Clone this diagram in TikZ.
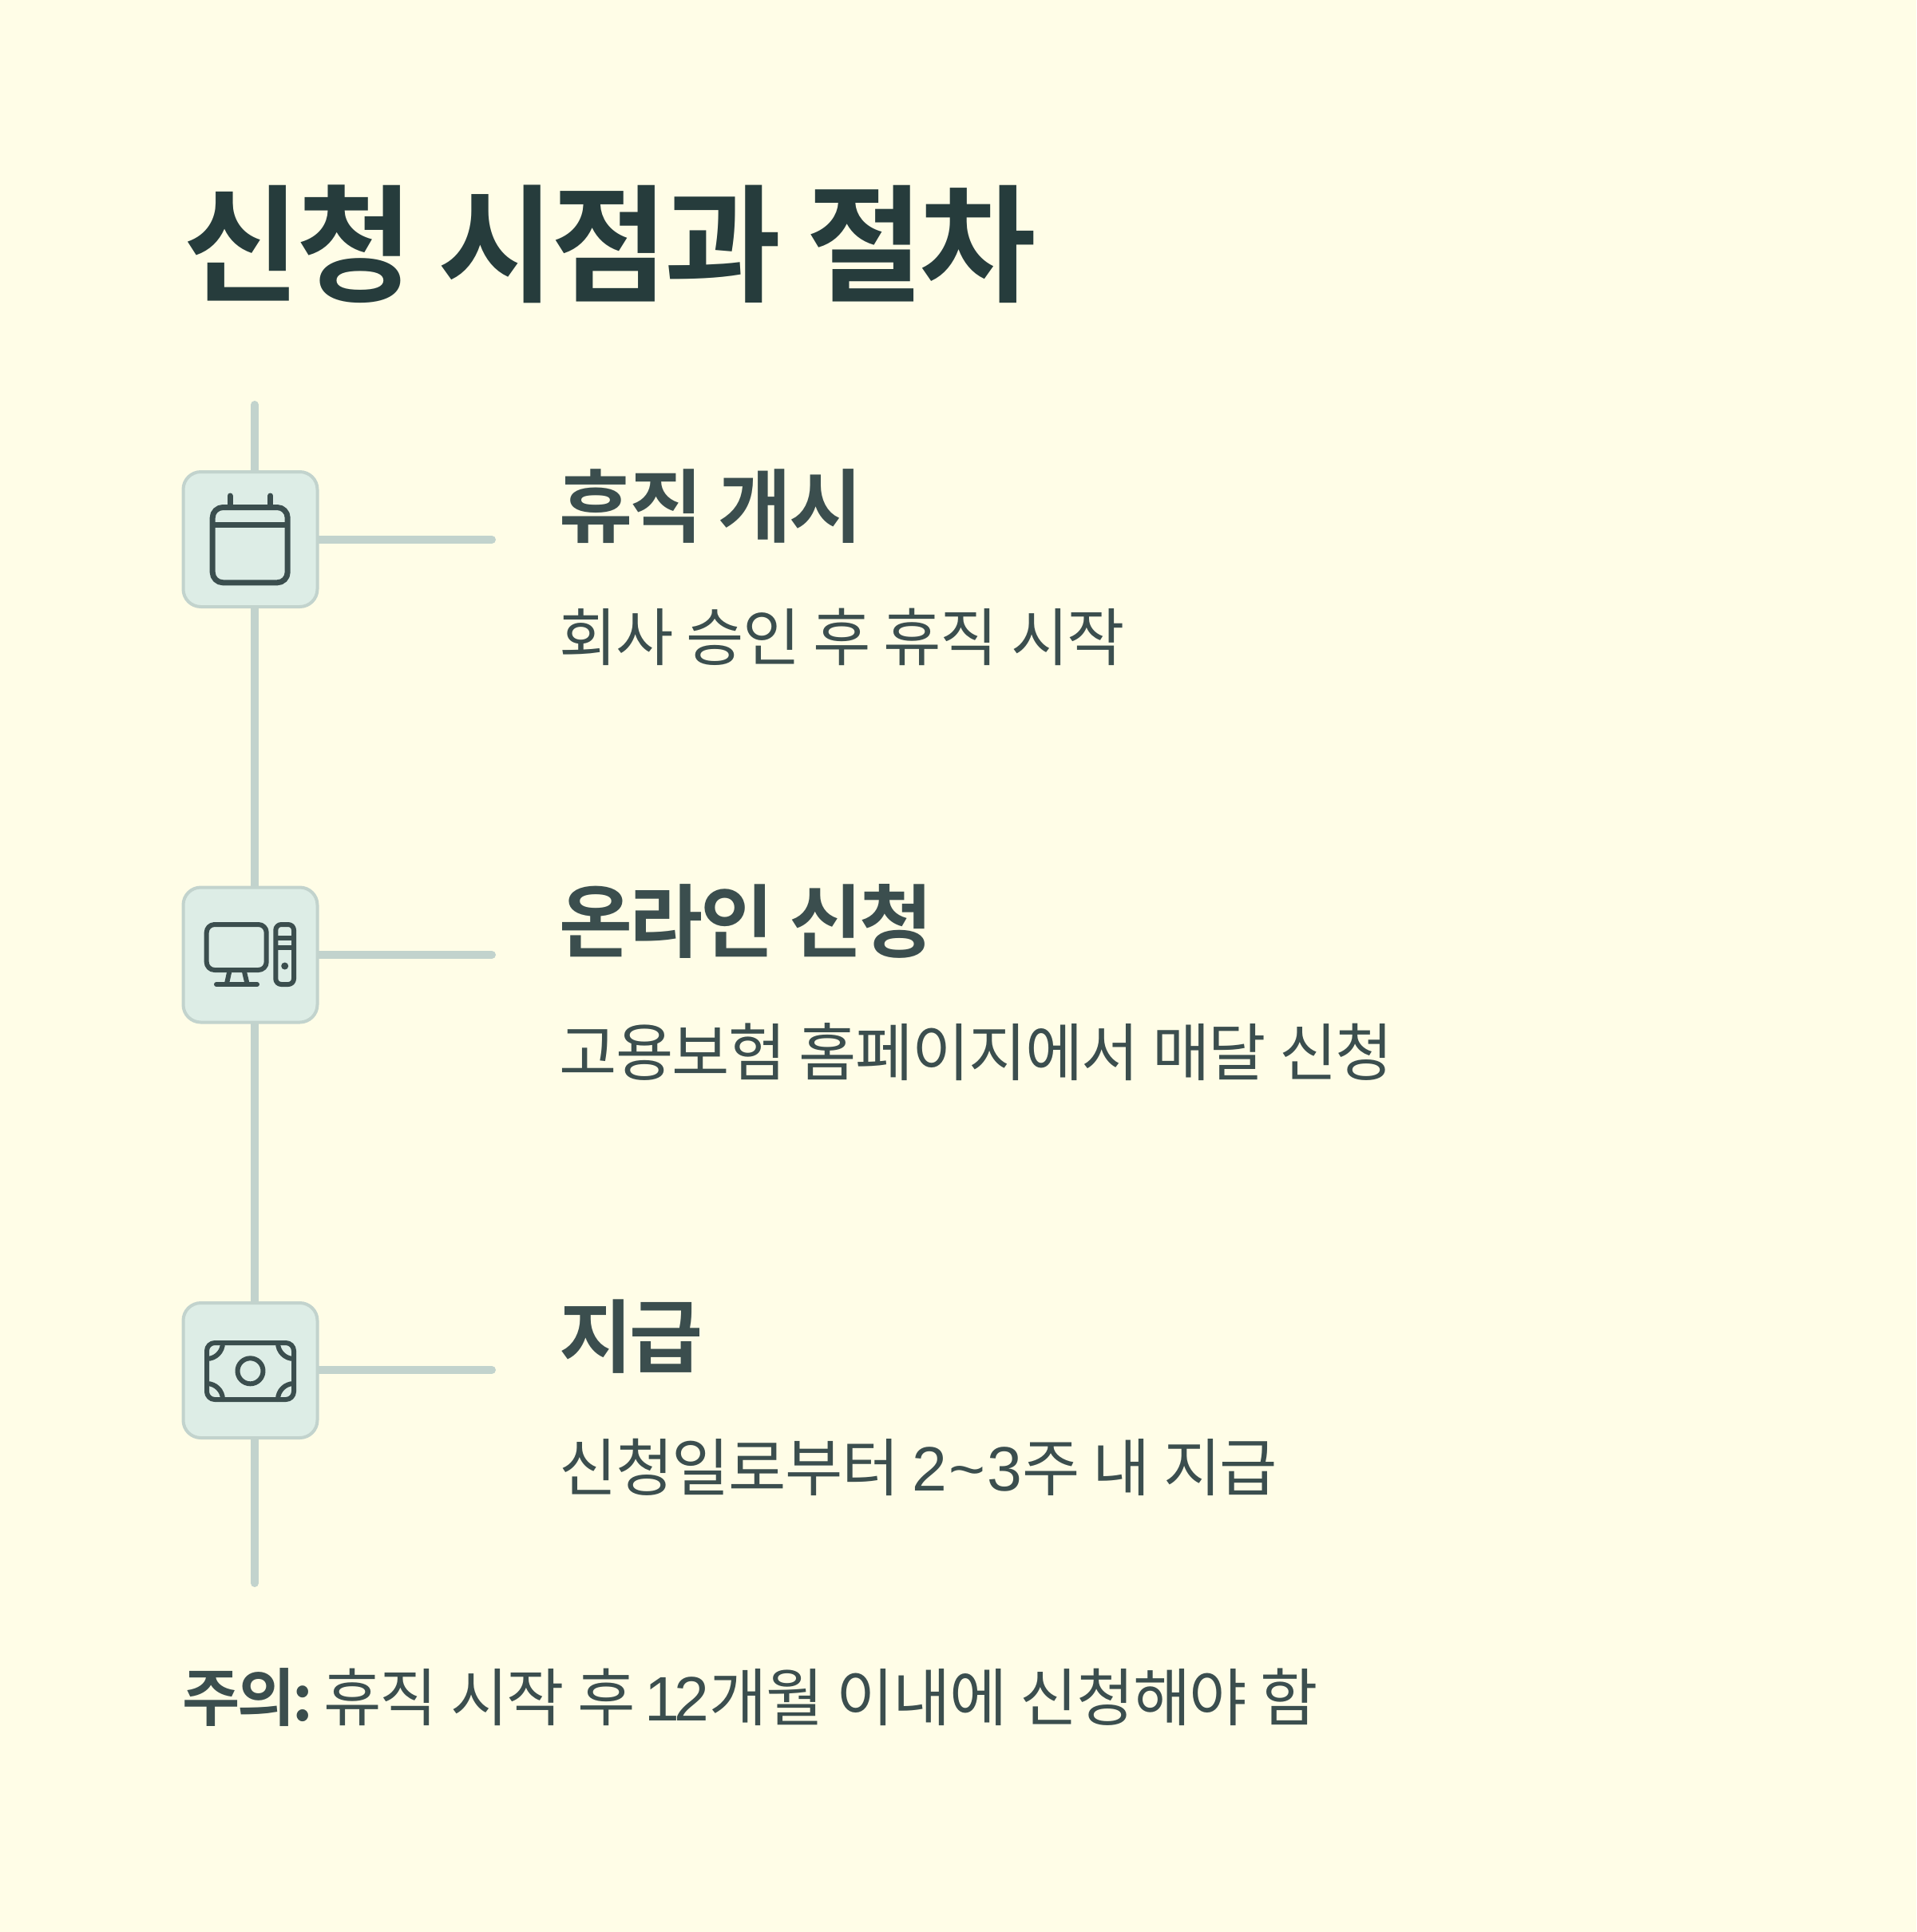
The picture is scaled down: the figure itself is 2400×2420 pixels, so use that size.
\documentclass[tikz,border=0pt]{standalone}
\usepackage{fontspec}
\usetikzlibrary{backgrounds}
\newfontfamily\krb[LetterSpace=-3]{Noto Sans CJK KR Bold}
\newfontfamily\krh[LetterSpace=-3.6]{Noto Sans CJK KR Bold}
\newfontfamily\krn[LetterSpace=-4]{Noto Sans CJK KR Bold}
\newfontfamily\krr[LetterSpace=-2]{Noto Sans CJK KR}
\newfontfamily\dgw[LetterSpace=3]{Liberation Sans}
\newfontfamily\dgt[LetterSpace=-8]{Liberation Sans}
\definecolor{bgc}{HTML}{FFFDE7}
\definecolor{linec}{HTML}{C2D3CD}
\definecolor{boxc}{HTML}{DDEDE6}
\definecolor{inkc}{HTML}{3B4E4E}
\definecolor{titlec}{HTML}{263C3C}
\tikzset{
  x=0.5pt,y=-0.5pt,
  rail/.style={draw=linec,line width=5pt,line cap=round},
  iconbox/.style={draw=linec,fill=boxc,line width=2pt,rounded corners=11pt,minimum width=84pt,minimum height=84.5pt,inner sep=0pt,outer sep=0pt},
  ic/.style={draw=inkc,line width=3pt,line cap=round,line join=round,fill=none},
  ttl/.style={anchor=base west,inner sep=0pt,text=titlec,font=\krb\fontsize{79.6}{90}\selectfont},
  head/.style={anchor=base west,inner sep=0pt,text=inkc,font=\krh\fontsize{50}{60}\selectfont},
  body/.style={anchor=base west,inner sep=0pt,text=inkc,font=\krr\fontsize{39.3}{48}\selectfont},
}
\begin{document}
\begin{tikzpicture}
\useasboundingbox (0,0) rectangle (2400,2420);
\node[iconbox] (boxa) at (313.5,675.5) {};
\node[iconbox] (boxb) at (313.5,1196) {};
\node[iconbox] (boxc) at (313.5,1716.5) {};
\coordinate (top) at (319,507);
\coordinate (bot) at (319,1983);
\coordinate (enda) at (616,676);
\coordinate (endb) at (616,1196);
\coordinate (endc) at (616,1716);
\begin{pgfonlayer}{background}
\fill[bgc] (0,0) rectangle (2400,2420);
\draw[rail] (top) -- (bot);
\draw[rail] (boxa.east |- enda) -- (enda);
\draw[rail] (boxb.east |- endb) -- (endb);
\draw[rail] (boxc.east |- endc) -- (endc);
\end{pgfonlayer}
\node[ttl] (title) at (229,365) {신청 시점과 절차};
% calendar
\begin{scope}[ic,line width=3.5pt]
\draw[rounded corners=6.5pt] (266.2,635.5) rectangle (360.2,729.8);
\draw[line cap=butt] (266.2,657.3) -- (360.2,657.3);
\draw (288,621) -- (288,634);
\draw (338.7,621) -- (338.7,634);
\end{scope}
% computer
\draw[ic,rounded corners=5pt] (258.7,1158) rectangle (333.7,1215);
\draw[ic,line cap=butt] (287.3,1217) -- (284,1232);
\draw[ic,line cap=butt] (306,1217) -- (309.5,1232);
\draw[ic] (271,1233) -- (322,1233);
\draw[ic,rounded corners=3.5pt] (345.3,1158) rectangle (368,1233);
\draw[ic,line cap=butt] (345.3,1175) -- (368,1175);
\draw[ic,line cap=butt] (345.3,1186.7) -- (368,1186.7);
\fill[inkc] (356.7,1210) circle[radius=4.5];
% money
\draw[ic,rounded corners=5pt] (259,1682) rectangle (368,1753);
\draw[ic] (313.5,1717.3) circle[radius=16];
\draw[ic] (259,1702) arc[start angle=90,end angle=0,radius=20];
\draw[ic] (368,1702) arc[start angle=90,end angle=180,radius=20];
\draw[ic] (259,1733) arc[start angle=-90,end angle=0,radius=20];
\draw[ic] (368,1733) arc[start angle=-90,end angle=-180,radius=20];
% texts
\node[head] (h1) at (700,671) {휴직 개시};
\node[body] (b1) at (700,827) {회사 승인 후 휴직 시작};
\node[head] (h2) at (700,1191) {온라인 신청};
\node[body] (b2) at (700,1347) {고용보험 홈페이지에서 매달 신청};
\node[head] (h3) at (700,1711) {지급};
\node[body] (b3) at (700,1867) {신청일로부터 {\dgw 2\textasciitilde3}주 내 지급};
\node[body] (n1) at (228,2155) {{\krn 주의:}\hspace{-4.3pt} 휴직 시작 후\hspace{-2pt} {\dgt 12}개월 이내에 신청해야 함};
\end{tikzpicture}
\end{document}
